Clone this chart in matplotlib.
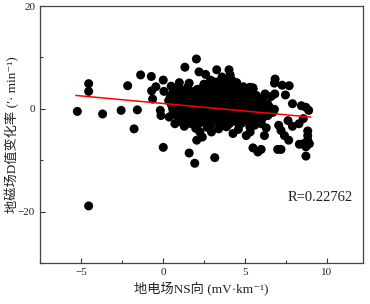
import matplotlib
matplotlib.use("Agg")
import matplotlib.pyplot as plt
from matplotlib.ticker import MultipleLocator

plt.rcParams['font.family'] = ['Liberation Serif', 'Noto Sans CJK SC', 'DejaVu Sans']

core_x = [
    0.45, 0.8, 1.15, 1.5, 1.85, 2.2, 2.55, 2.9, 3.25, 3.6, 3.95, 4.3, 4.65, 5.0, 5.35, 5.7, 6.1,
    0.35, 0.7, 1.05, 1.4, 1.75, 2.1, 2.45, 2.8, 3.15, 3.5, 3.85, 4.2, 4.55, 4.9, 5.25, 5.6, 5.95, 6.3,
    0.55, 0.9, 1.25, 1.6, 1.95, 2.3, 2.65, 3.0, 3.35, 3.7, 4.05, 4.4, 4.75, 5.1, 5.45, 5.8, 6.15, 6.5,
    0.7, 1.05, 1.4, 1.75, 2.1, 2.45, 2.8, 3.15, 3.5, 3.85, 4.2, 4.55, 4.9, 5.25, 5.6, 5.95, 6.3, 6.7,
    0.85, 1.2, 1.55, 1.9, 2.25, 2.6, 2.95, 3.3, 3.65, 4.0, 4.35, 4.7, 5.05, 5.4, 5.75, 6.1,
    1.1, 1.5, 1.85, 2.2, 2.6, 2.95, 3.3, 3.7, 4.05, 4.45, 4.8, 5.2, 5.6, 6.0,
    1.3, 2.0, 2.7, 3.4, 3.9, 4.6, 5.3, 6.3,
    0.8, 1.2, 1.5, 1.9, 2.3, 2.7, 3.0, 3.4, 3.7, 3.9, 4.2, 4.4, 4.7, 5.1, 5.5, 0.6,
    3.6, 3.9, 4.1, 3.3, 2.9, 4.5, 5.3, 1.6, 1.0, 0.5, 2.5,
    1.3, 2.0, 2.7, 3.4, 4.1, 4.8, 5.5, 3.0, 4.5, 1.8, 2.4, 3.8, 5.2, 6.0, 0.6, 6.4, 6.6, 6.8, 4.0, 2.0,
    0.6, 0.95, 1.3, 1.65, 2.0, 2.35, 2.7, 3.05, 3.4, 3.75, 4.1, 4.45, 4.8, 5.15, 5.5, 5.85,
    0.5, 0.85, 1.2, 1.55, 1.9, 2.25, 2.6, 2.95, 3.3, 3.65, 4.0, 4.35, 4.7, 5.05, 5.4, 5.75, 6.1,
    0.6, 0.95, 1.3, 1.65, 2.0, 2.35, 2.7, 3.05, 3.4, 3.75, 4.1, 4.45, 4.8, 5.15, 5.5, 5.85, 6.2,
    0.9, 1.25, 1.6, 1.95, 2.3, 2.65, 3.0, 3.35, 3.7, 4.05, 4.4, 4.75, 5.1, 5.45, 5.8,
    1.4, 1.8, 2.15, 2.5, 2.85, 3.2, 3.55, 3.9, 4.25, 4.6, 5.0, 5.4,
    3.5, 3.8, 4.2, 4.6, 4.9, 3.2, 2.6, 2.1, 6.4, 6.0,
]
core_y = [
    2.4, 2.9, 2.2, 2.7, 3.0, 2.3, 2.8, 2.5, 3.1, 2.4, 2.9, 2.6, 2.2, 2.8, 2.3, 2.6, 2.1,
    1.6, 1.2, 1.8, 1.4, 1.1, 1.7, 1.3, 1.9, 1.5, 1.2, 1.8, 1.4, 1.6, 1.1, 1.7, 1.3, 1.5, 1.0,
    0.6, 0.2, 0.7, 0.3, 0.5, 0.1, 0.8, 0.4, 0.2, 0.6, 0.3, 0.7, 0.1, 0.5, 0.2, 0.4, 0.0, 0.3,
    -0.4, -0.8, -0.5, -0.9, -0.3, -0.7, -0.6, -1.0, -0.4, -0.8, -0.5, -0.9, -0.6, -0.3, -0.8, -0.5, -0.9, -0.7,
    -1.4, -1.8, -1.5, -1.9, -1.3, -1.7, -2.0, -1.5, -1.8, -1.4, -1.9, -1.6, -1.3, -1.8, -1.5, -1.7,
    -2.5, -2.8, -2.3, -2.9, -2.6, -3.0, -2.4, -2.7, -2.9, -2.5, -2.8, -2.3, -2.6, -2.9,
    -3.4, -3.8, -3.6, -3.9, -3.3, -4.0, -3.5, -3.7,
    4.0, 3.6, 4.2, 3.4, 3.9, 3.3, 4.4, 3.8, 5.0, 4.3, 5.6, 4.6, 3.9, 3.5, 3.8, 3.2,
    6.2, 5.8, 6.6, 5.2, 5.6, 5.1, 4.2, 5.0, 5.1, 4.4, 4.8,
    3.0, 2.0, 1.0, 0.0, -1.1, -2.1, 1.0, 2.0, 0.9, -0.2, -2.2, 2.1, -1.1, 1.9, -1.0, -1.3, 2.4, -0.1, 3.2, 3.2,
    2.0, 2.2, 1.9, 2.1, 2.3, 1.8, 2.0, 2.2, 1.9, 2.1, 2.3, 1.8, 2.0, 2.2, 1.9, 2.0,
    1.0, 0.8, 1.1, 0.9, 1.0, 0.8, 1.2, 0.9, 1.0, 0.8, 1.1, 0.9, 1.0, 0.8, 1.1, 0.9, 1.0,
    -0.1, 0.0, -0.2, 0.1, -0.1, 0.0, -0.2, 0.1, -0.1, 0.0, -0.2, 0.1, -0.1, 0.0, -0.2, 0.1, -0.1,
    -1.1, -1.2, -1.0, -1.3, -1.1, -1.2, -1.0, -1.3, -1.1, -1.2, -1.0, -1.3, -1.1, -1.2, -1.0,
    -2.1, -2.2, -2.0, -2.3, -2.1, -2.2, -2.0, -2.3, -2.1, -2.2, -2.0, -2.3,
    4.7, 3.4, 4.0, 3.1, 4.3, 3.7, 3.6, 3.8, 0.9, -2.2,
]

# scattered points around the core
edge_x = [
    -5.22, -4.53, -4.53, -4.53, -3.68, -2.55, -2.15, -1.76, -1.56, -1.36,
    -0.71, -0.69, -0.63, -0.43, -0.16, -0.12, 0.02, 0.06, 0.02,
    2.04, 1.34, 2.2, 2.6, 3.28, 4.03, 3.06, 1.6, 1.94, 3.16, 2.06, 2.4,
    5.49, 5.79, 5.99, 7.0, 7.2, 8.72, 8.89, 8.72, 8.44, 7.9, 7.7, 7.27,
    6.84, 6.8, 7.47, 6.82, 6.23, 5.49, 4.51, 7.63, 7.9, 8.3, 8.56,
    8.83, 8.83, 8.83, 8.56, 8.32, 8.93, 8.72, 7.67, 7.41, 7.2, 7.06,
    5.08, 5.32, 5.59, 6.19, 4.27, 3.87, 2.96, 2.25, 1.74, 0.73, 0.38,
]
edge_y = [
    -0.5, 4.9, 3.4, -18.9, -1.0, -0.3, 4.5, -3.9, -0.2, 6.6,
    6.3, 3.5, 1.9, 4.3, -0.3, -1.3, 5.6, 3.4, -7.5,
    9.7, 8.1, 7.2, 6.7, 7.6, 7.6, 5.3, -8.6, -10.6, -9.5, -6.1, -5.5,
    -7.6, -8.4, -7.9, -7.9, -7.9, -9.2, -0.3, 0.3, 0.6, 1.0, 4.5, 4.6,
    5.8, 5.0, 2.7, 2.9, 2.9, 4.1, 4.7, -2.3, -3.4, -2.9, -1.9,
    -4.3, -5.2, -6.1, -6.8, -6.9, -6.8, -7.4, -6.1, -5.2, -4.2, -3.2,
    -5.2, -4.5, -3.2, -5.2, -4.8, -3.5, -4.5, -4.5, -2.9, -2.9, -1.6,
]

# fitted line ends
fit_x = [-5.3, 9.0]
fit_y = [2.6, -1.6]
r_text = "R=0.22762"

fig = plt.figure(figsize=(3.7, 3.04), dpi=100)
ax = fig.add_axes([0.108, 0.135, 0.873, 0.845])

ax.scatter(core_x + edge_x, core_y + edge_y, s=42, color='black', edgecolors='none', zorder=2)
ax.plot(fit_x, fit_y, color='red', linewidth=1.1, zorder=3)

ax.set_xlim(-7.5, 12.2)
ax.set_ylim(-30, 20)
ax.xaxis.set_major_locator(MultipleLocator(5))
ax.xaxis.set_minor_locator(MultipleLocator(2.5))
ax.yaxis.set_major_locator(MultipleLocator(20))
ax.yaxis.set_minor_locator(MultipleLocator(10))
ax.tick_params(which='both', direction='in', labelsize=8, colors='#333333', labelcolor='#222222')
ax.tick_params(which='major', length=3.5, width=0.8)
ax.tick_params(which='minor', length=2, width=0.8)
for sp in ax.spines.values():
    sp.set_color('#444444')
    sp.set_linewidth(0.9)

ax.text(7.6, -17.2, r_text, fontsize=10.5, color='#222222', va='center')

ax.set_xlabel('地电场NS向 (mV·km⁻¹)', fontsize=9.5, color='#222222', labelpad=4)
ax.set_ylabel('地磁场D值变化率 (′· min⁻¹)', fontsize=9.5, color='#222222', va='center')
ax.yaxis.set_label_coords(-0.085, 0.5)

fig.savefig('out.png', dpi=100)
